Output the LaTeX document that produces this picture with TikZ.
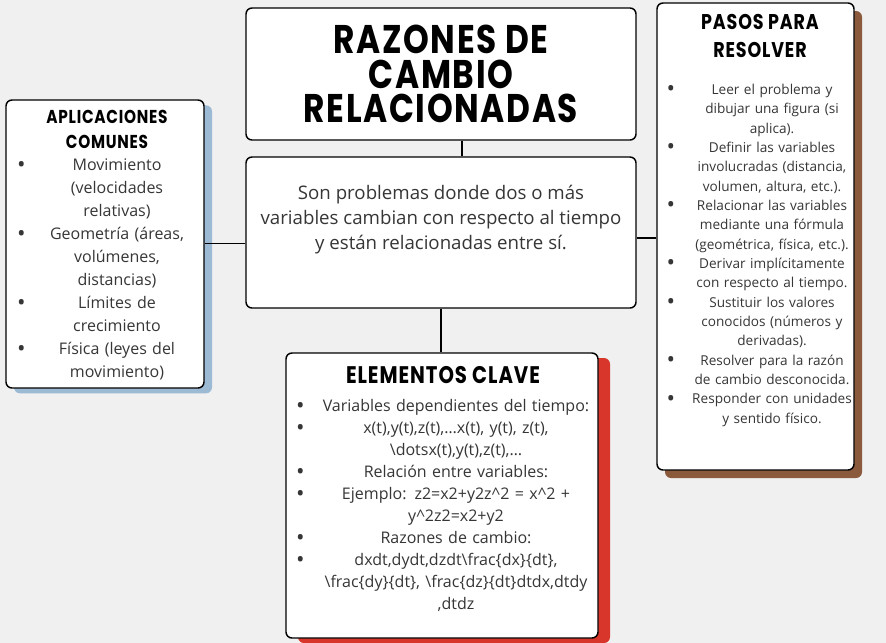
\documentclass[tikz,border=0pt]{standalone}
\usepackage{fontspec}
\setmainfont{Open Sans}
\newfontfamily\headfont[FakeStretch=0.82,LetterSpace=4]{Poppins}
\usetikzlibrary{shadows}

\definecolor{pagegray}{HTML}{F0F0F0}
\definecolor{bodygray}{HTML}{363636}
\definecolor{shblue}{HTML}{9DBAD5}
\definecolor{shbrown}{HTML}{8B5A3C}
\definecolor{shred}{HTML}{D8362B}

% bullet followed by a centred block
\newcommand\bul[2]{\makebox[15pt][l]{\raisebox{-1.6pt}{\fontsize{17}{17}\selectfont\textbullet}}%
  \parbox[t]{#1}{\centering #2\strut}\par\prevdepth=\dp\strutbox}

\tikzset{
  card/.style={draw=black, line width=1.1pt, rounded corners=4.5pt, fill=white, inner sep=0pt},
  blueshade/.style={drop shadow={shadow xshift=6pt, shadow yshift=-4pt, fill=shblue, opacity=1}},
  brownshade/.style={drop shadow={shadow xshift=6pt, shadow yshift=-6pt, fill=shbrown, opacity=1}},
  redshade/.style={drop shadow={shadow xshift=9pt, shadow yshift=-3.75pt, fill=shred, opacity=1}},
  link/.style={line width=1pt, black},
  listtext/.style={anchor=north, inner sep=0pt, align=left, text=bodygray}
}

\begin{document}
\begin{tikzpicture}[x=0.75pt,y=-0.75pt]
    \fill[pagegray] (0,0) rectangle (886,643);
    \useasboundingbox (0,0) rectangle (886,643);

    \node[card, minimum width=292.5pt, minimum height=99pt, align=center,
          font=\headfont\bfseries\fontsize{30}{26}\selectfont] (title) at (441,74)
          {RAZONES DE\\CAMBIO\\RELACIONADAS};
    \node[card, minimum width=292.5pt, minimum height=113.25pt] (core) at (441,232.5) {};
    \node[card, blueshade, minimum width=148.5pt, minimum height=216pt] (apps) at (105,244) {};
    \node[card, brownshade, minimum width=147.75pt, minimum height=350.25pt] (steps) at (755.5,236.5) {};
    \node[card, redshade, minimum width=234pt, minimum height=213.75pt] (keys) at (442,495.5) {};

    \draw[link] ([xshift=15.75pt]title.south) -- ([xshift=15.75pt]core.north);
    \draw[link] ([yshift=-8pt]core.west) -- ([yshift=-8pt]core.west -| apps.east);
    \draw[link] ([yshift=-4pt]core.east) -- ([yshift=-4pt]core.east -| steps.west);
    \draw[link] (core.south) -- (core.south |- keys.north);

    \node[align=center, text=bodygray, font=\fontsize{14}{18.75}\selectfont] (coretext) at (441,220)
        {Son problemas donde dos o más\\variables cambian con respecto al tiempo\\y están relacionadas entre sí.};

    % left card
    \node[align=center, inner sep=0pt, font=\headfont\bfseries\fontsize{14}{18.75}\selectfont] (appshead) at (107,129.5)
        {APLICACIONES\\COMUNES};
    \node[listtext, text width=135pt, font=\fontsize{12}{17.25}\selectfont] (appslist) at (107,158) {
        \bul{120pt}{Movimiento\\(velocidades\\relativas)}
        \bul{120pt}{Geometría (áreas,\\volúmenes,\\distancias)}
        \bul{120pt}{Límites de\\crecimiento}
        \bul{120pt}{Física (leyes del\\movimiento)}
    };

    % right card
    \node[align=center, inner sep=0pt, font=\headfont\bfseries\fontsize{16}{21}\selectfont] (stepshead) at (760,36)
        {PASOS PARA\\RESOLVER};
    \node[listtext, text width=143pt, font=\fontsize{10.2}{14.5}\selectfont] (stepslist) at (762,84) {
        \bul{128pt}{Leer el problema y\\dibujar una figura (si\\aplica).}
        \bul{128pt}{Definir las variables\\involucradas (distancia,\\volumen, altura, etc.).}
        \bul{128pt}{Relacionar las variables\\mediante una fórmula\\(geométrica, física, etc.).}
        \bul{128pt}{Derivar implícitamente\\con respecto al tiempo.}
        \bul{128pt}{Sustituir los valores\\conocidos (números y\\derivadas).}
        \bul{128pt}{Resolver para la razón\\de cambio desconocida.}
        \bul{128pt}{Responder con unidades\\y sentido físico.}
    };

    % bottom card
    \node[inner sep=0pt, font=\headfont\bfseries\fontsize{18}{20}\selectfont] (keyshead) at (443,375)
        {ELEMENTOS CLAVE};
    \node[listtext, text width=225pt, font=\fontsize{12}{16.5}\selectfont] (keyslist) at (446,396) {
        \bul{210pt}{Variables dependientes del tiempo:}
        \bul{210pt}{x(t),y(t),z(t),…x(t), y(t), z(t),\\\textbackslash dotsx(t),y(t),z(t),…}
        \bul{210pt}{Relación entre variables:}
        \bul{210pt}{Ejemplo: z2=x2+y2z\textasciicircum2 = x\textasciicircum2 +\\y\textasciicircum2z2=x2+y2}
        \bul{210pt}{Razones de cambio:}
        \bul{210pt}{dxdt,dydt,dzdt\textbackslash frac\{dx\}\{dt\},\\\textbackslash frac\{dy\}\{dt\}, \textbackslash frac\{dz\}\{dt\}dtdx,dtdy\\,dtdz}
    };
\end{tikzpicture}
\end{document}
